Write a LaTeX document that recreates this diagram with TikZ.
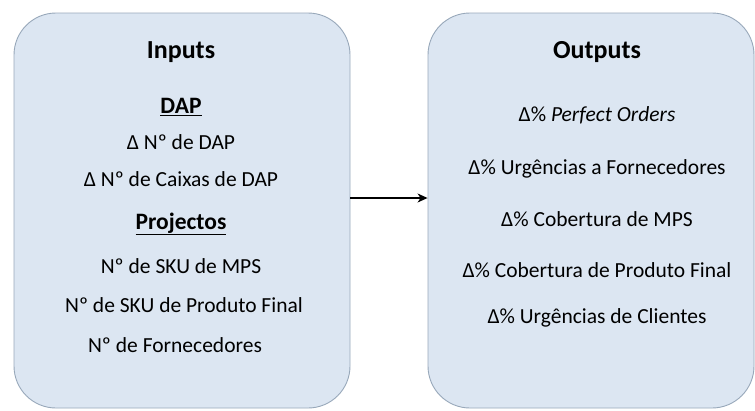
\documentclass[tikz,border=0pt]{standalone}
\usepackage{fontspec}
\setmainfont{Carlito}
\usepackage{tikz}
\usetikzlibrary{arrows.meta}
\usetikzlibrary{positioning}

\definecolor{boxfill}{HTML}{DCE6F2}
\definecolor{boxline}{HTML}{98A8BA}

\tikzset{
  panel/.style={draw=boxline, fill=boxfill, line width=0.9pt, rounded corners=42pt,
    minimum height=395pt, inner sep=0pt},
  item/.style={inner sep=0pt, text height=16pt, text depth=5pt,
    font=\fontsize{21.5}{24}\selectfont},
  title/.style={item, font=\fontsize{26}{30}\selectfont\bfseries},
  subtitle/.style={item, font=\fontsize{23.5}{27}\selectfont\bfseries},
}

\begin{document}
\begin{tikzpicture}
    [>={Stealth[length=10pt, width=9pt, inset=3pt]}, node distance=20pt]
    \useasboundingbox (0pt,0pt) rectangle (755pt,-410pt);

    \node (in) [panel, minimum width=336pt] at (182pt,-210.5pt) {};
    \node (out) [panel, minimum width=326pt] at (591pt,-210.5pt) {};

    % inputs
    \node (inp) [title] at (181pt,-53pt) {Inputs};
    \node (dap) [subtitle, below = 34pt of inp] {\underline{DAP}};
    \node (ndap) [item, below = 14pt of dap] {Δ Nº de DAP};
    \node (cx) [item, below = 16pt of ndap] {Δ Nº de Caixas de DAP};
    \node (proj) [subtitle, below = 21pt of cx] {\underline{Projectos}};
    \node (skum) [item, below = 23pt of proj] {Nº de SKU de MPS};
    \node (skup) [item, below = 18pt of skum, xshift=3pt] {Nº de SKU de Produto Final};
    \node (forn) [item, below = 18pt of skup, xshift=-9pt] {Nº de Fornecedores};

    % outputs
    \node (outp) [title] at (597pt,-53pt) {Outputs};
    \node (po) [item, below = 42pt of outp] {Δ\% \textit{Perfect Orders}};
    \node (uf) [item, below = 31pt of po] {Δ\% Urgências a Fornecedores};
    \node (cm) [item, below = 31pt of uf] {Δ\% Cobertura de MPS};
    \node (cp) [item, below = 29pt of cm] {Δ\% Cobertura de Produto Final};
    \node (uc) [item, below = 25pt of cp] {Δ\% Urgências de Clientes};

    \draw [->, line width=1.2pt] ([yshift=12.5pt]in.east) -- ([yshift=12.5pt]out.west);
  \end{tikzpicture}
\end{document}
